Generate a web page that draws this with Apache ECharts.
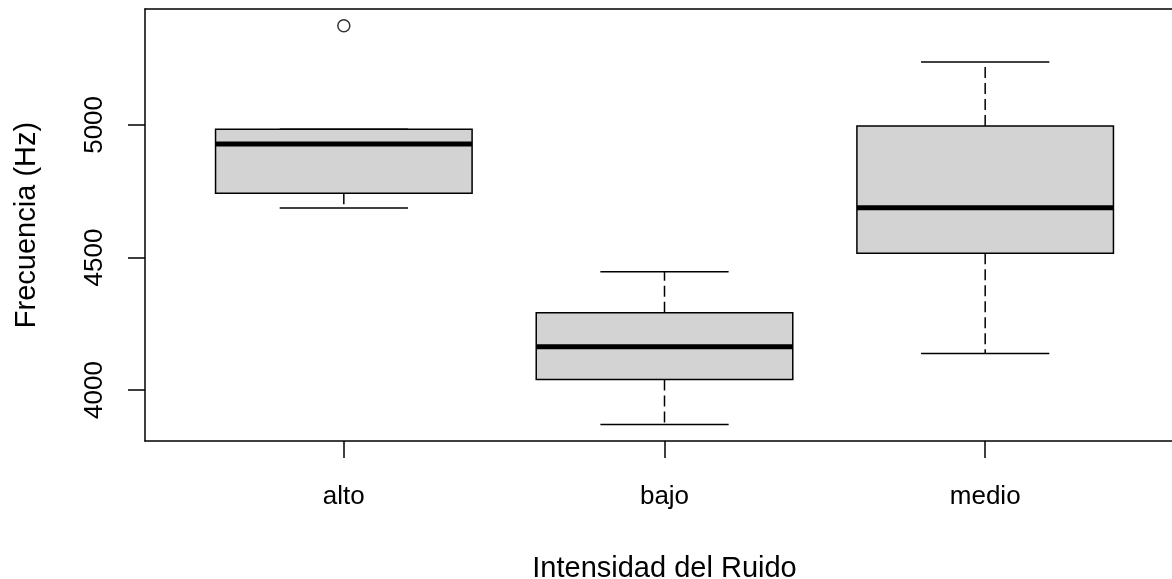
<!DOCTYPE html>
<html>
<head>
<meta charset="utf-8">
<script src="https://cdn.jsdelivr.net/npm/echarts@6/dist/echarts.min.js"></script>
<style>
html,body{margin:0;padding:0;background:#fff;}
#chart{width:1172px;height:579px;}
</style>
</head>
<body>
<div id="chart"></div>
<script>
// Data
var categories = ['alto', 'bajo', 'medio'];
var lowerWhisker = [4687, 3870, 4138];
var q1 = [4742, 4040, 4516];
var median = [4928, 4163, 4688];
var q3 = [4984, 4292, 4996];
var upperWhisker = [4984, 4446, 5237];
var outliers = [[0, 5374]];
var yTicks = [4000, 4500, 5000];

var FONT = '"Liberation Sans", Arial, sans-serif';
var FS = 26;
var FS_TITLE = 29;

var boxData = categories.map(function (c, i) {
  return [i, lowerWhisker[i], q1[i], median[i], q3[i], upperWhisker[i]];
});

var axisLineStyle = {color: '#000', width: 1.5};

var chart = echarts.init(document.getElementById('chart'), null, {renderer: 'canvas'});
chart.setOption({
  animation: false,
  backgroundColor: '#fff',
  grid: {left: 145, top: 9, width: 1039, height: 432, show: false, outerBoundsMode: 'none', containLabel: false},
  xAxis: [{
    type: 'value', min: -0.62, max: 2.62, position: 'bottom',
    name: 'Intensidad del Ruido', nameLocation: 'middle', nameGap: 113,
    nameTextStyle: {fontFamily: FONT, fontSize: FS_TITLE, color: '#000'},
    axisLine: {show: true, onZero: false, lineStyle: axisLineStyle},
    splitLine: {show: false},
    axisTick: {show: true, length: 17, customValues: [0, 1, 2], lineStyle: {color: '#000', width: 1.5}},
    axisLabel: {customValues: [0, 1, 2], margin: 43, fontFamily: FONT, fontSize: FS, color: '#000',
      formatter: function (v) { return categories[Math.round(v)]; }}
  }, {
    type: 'value', min: -0.62, max: 2.62, position: 'top',
    axisLine: {show: true, onZero: false, lineStyle: axisLineStyle},
    splitLine: {show: false}, axisTick: {show: false}, axisLabel: {show: false}
  }],
  yAxis: {
    type: 'value', min: 3808, max: 5437,
    name: 'Frecuencia (Hz)', nameLocation: 'middle', nameGap: 104,
    nameTextStyle: {fontFamily: FONT, fontSize: FS_TITLE, color: '#000'},
    axisLine: {show: true, onZero: false, lineStyle: axisLineStyle},
    splitLine: {show: false},
    axisTick: {show: true, length: 17, customValues: yTicks, lineStyle: {color: '#000', width: 1.5}},
    axisLabel: {customValues: yTicks, rotate: 90, margin: 37, fontFamily: FONT, fontSize: FS, color: '#000',
      formatter: function (v) { return String(v); }}
  },
  series: [
    {
      type: 'custom',
      xAxisIndex: 0,
      data: boxData,
      encode: {x: 0, y: [1, 2, 3, 4, 5]},
      renderItem: function (params, api) {
        var x = api.value(0);
        var pLo = api.coord([x, api.value(1)]);
        var pQ1 = api.coord([x, api.value(2)]);
        var pMd = api.coord([x, api.value(3)]);
        var pQ3 = api.coord([x, api.value(4)]);
        var pHi = api.coord([x, api.value(5)]);
        var half = api.size([0.8, 0])[0] / 2;
        var cap = half / 2;
        var cx = pMd[0];
        var dash = {stroke: '#000', lineWidth: 1.5, lineDash: [11, 5]};
        var solid = {stroke: '#000', lineWidth: 1.5};
        return {
          type: 'group',
          children: [
            {type: 'line', shape: {x1: cx, y1: pQ1[1], x2: cx, y2: pLo[1]}, style: dash},
            {type: 'line', shape: {x1: cx, y1: pQ3[1], x2: cx, y2: pHi[1]}, style: dash},
            {type: 'line', shape: {x1: cx - cap, y1: pLo[1], x2: cx + cap, y2: pLo[1]}, style: solid},
            {type: 'line', shape: {x1: cx - cap, y1: pHi[1], x2: cx + cap, y2: pHi[1]}, style: solid},
            {type: 'rect', shape: {x: cx - half, y: pQ3[1], width: 2 * half, height: pQ1[1] - pQ3[1]},
              style: {fill: '#D3D3D3', stroke: '#000', lineWidth: 1.5}},
            {type: 'line', shape: {x1: cx - half, y1: pMd[1], x2: cx + half, y2: pMd[1]},
              style: {stroke: '#000', lineWidth: 5}}
          ]
        };
      }
    },
    {
      type: 'scatter',
      xAxisIndex: 0,
      data: outliers,
      symbol: 'circle',
      symbolSize: 12,
      itemStyle: {color: '#fff', borderColor: '#000', borderWidth: 1.5}
    }
  ]
});
</script>
</body>
</html>
